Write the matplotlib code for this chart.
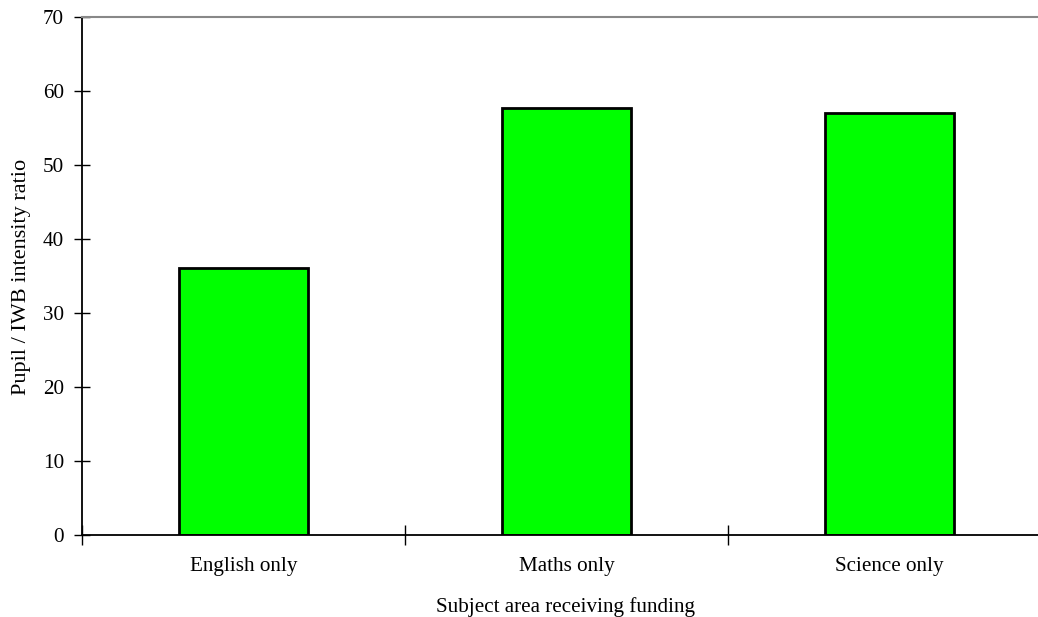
import matplotlib
matplotlib.use("Agg")
from matplotlib import pyplot as plt

# data
categories = ["English only", "Maths only", "Science only"]
values = [36.0, 57.6, 57.0]
y_ticks = [0, 10, 20, 30, 40, 50, 60, 70]

plt.rcParams['font.family'] = ['Liberation Serif', 'DejaVu Serif']
FS = 15.2

fig = plt.figure(figsize=(10.38, 6.17), dpi=100)
W, H = 1038, 617
ax = fig.add_axes([82 / W, 1 - 534.5 / H, 969 / W, 518 / H])

ax.bar(range(len(categories)), values, width=0.4, color="#00ff00",
       edgecolor="black", linewidth=2)

ax.set_xlim(-0.5, 2.5)
ax.set_ylim(0, 70)
ax.set_yticks(y_ticks)
ax.set_xticks(range(len(categories)))
ax.set_xticklabels(categories, fontsize=FS)
ax.set_xticks([-0.5, 0.5, 1.5, 2.5], minor=True)
ax.tick_params(axis="x", which="major", length=0, pad=16)
ax.tick_params(axis="x", which="minor", direction="inout", length=14, width=1)
ax.tick_params(axis="y", direction="inout", length=12, width=1, labelsize=FS, pad=7)

for s in ["left", "bottom"]:
    ax.spines[s].set_linewidth(1.3)
    ax.spines[s].set_color("black")
ax.spines["top"].set_color("#888888")
ax.spines["top"].set_linewidth(1.5)
ax.spines["right"].set_visible(False)

fig.text(22 / W, 1 - 277 / H, "Pupil / IWB intensity ratio", fontsize=FS + 0.8,
         rotation=90, ha="center", va="center")
fig.text(566 / W, 1 - 607 / H, "Subject area receiving funding", fontsize=FS,
         ha="center", va="center")

fig.savefig("out.png", dpi=100)
